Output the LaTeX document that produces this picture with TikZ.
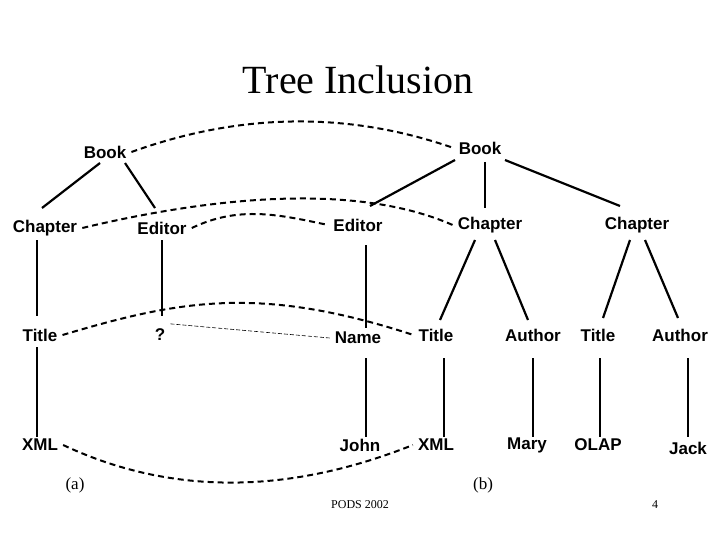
\documentclass[tikz,border=0pt]{standalone}
\usepackage{fontspec}
\setmainfont{Liberation Serif}
\newfontfamily\lab{Liberation Sans}
\begin{document}
\begin{tikzpicture}[x=1pt,y=-1pt,
  lbl/.style={font=\lab\bfseries\fontsize{17}{19}\selectfont,inner sep=5pt},
  edge/.style={line width=2.2pt},
  dsh/.style={line width=2pt,dash pattern=on 6pt off 4pt},
  thin/.style={line width=0.6pt,dash pattern=on 4pt off 2pt}]
\useasboundingbox (0,0) rectangle (720,540);
\node (title) at (358,80) {\fontsize{40}{44}\selectfont Tree Inclusion};
% tree a
\node[lbl] (aB) at (105,152) {Book};
\node[lbl] (aC) at (45,228) {Chapter};
\node[lbl] (aE) at (162,228) {Editor};
\node[lbl] (aT) at (40,335) {Title};
\node[lbl] (aQ) at (160,335) {?};
\node[lbl] (aX) at (40,445) {XML};
% tree b
\node[lbl] (bB) at (480,148) {Book};
\node[lbl] (bE) at (358,225) {Editor};
\node[lbl] (bC1) at (490,225) {Chapter};
\node[lbl] (bC2) at (637,225) {Chapter};
\node[lbl] (bN) at (358,338) {Name};
\node[lbl] (bT1) at (436,335) {Title};
\node[lbl] (bA1) at (533,335) {Author};
\node[lbl] (bT2) at (598,335) {Title};
\node[lbl] (bA2) at (680,335) {Author};
\node[lbl] (bJ) at (360,445) {John};
\node[lbl] (bX) at (436,445) {XML};
\node[lbl] (bM) at (527,445) {Mary};
\node[lbl] (bO) at (598,445) {OLAP};
\node[lbl] (bK) at (688,448) {Jack};
\node (la) at (75,485) {\fontsize{17}{19}\selectfont (a)};
\node (lb) at (483,485) {\fontsize{17}{19}\selectfont (b)};
\node (pods) at (360,505) {\fontsize{12}{14}\selectfont PODS 2002};
\node (pg) at (655,505) {\fontsize{12}{14}\selectfont 4};
% edges a
\draw[edge] (100,163) -- (42,208);
\draw[edge] (125,163) -- (155,208);
\draw[edge] (aC.south -| 37,0) ++(0,0) coordinate (c1) (37,240) -- (37,316);
\draw[edge] (37,347) -- (37,437);
\draw[edge] (162,240) -- (162,316);
% edges b
\draw[edge] (455,160) -- (370,206);
\draw[edge] (485,162) -- (485,208);
\draw[edge] (505,160) -- (620,206);
\draw[edge] (475,240) -- (440,320);
\draw[edge] (495,240) -- (528,320);
\draw[edge] (630,240) -- (603,318);
\draw[edge] (645,240) -- (678,318);
\draw[edge] (366,245) -- (366,328);
\draw[edge] (366,358) -- (366,437);
\draw[edge] (444,358) -- (444,437);
\draw[edge] (533,358) -- (533,437);
\draw[edge] (600,358) -- (600,437);
\draw[edge] (688,358) -- (688,437);
% dashed correspondences
\draw[dsh] (aB.east) .. controls (220,120) and (330,105) .. (bB.west);
\draw[dsh] (aC.east) .. controls (200,200) and (350,180) .. (bC1.west);
\draw[dsh] (aE.east) .. controls (240,205) and (280,215) .. (bE.west);
\draw[dsh] (aT.east) .. controls (180,300) and (260,285) .. (bT1.west);
\draw[thin] (aQ.north east) -- (bN.west);
\draw[dsh] (aX.east) .. controls (180,500) and (300,490) .. (bX.west);
\end{tikzpicture}
\end{document}
